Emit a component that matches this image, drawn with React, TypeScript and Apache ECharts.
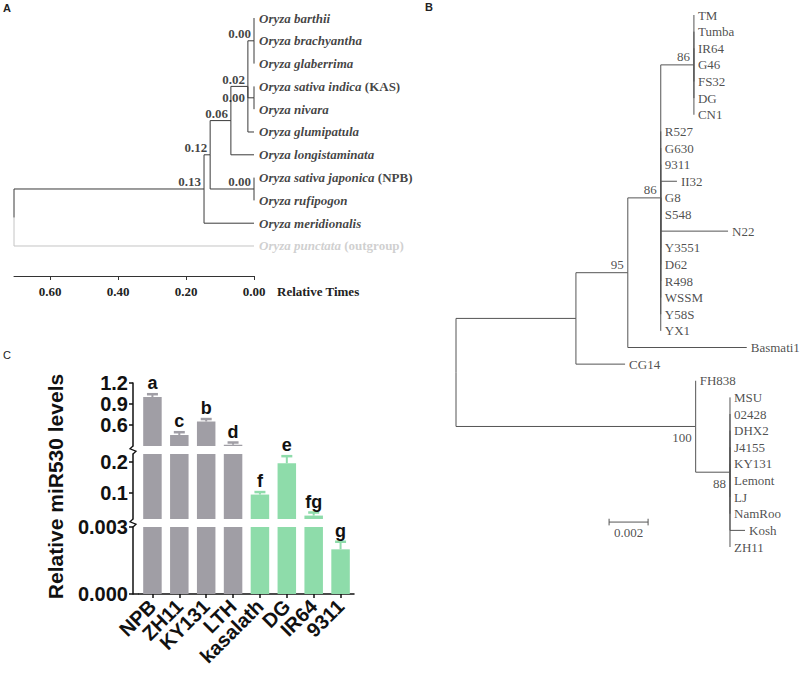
import React, { useEffect, useRef } from 'react';
import * as echarts from 'echarts';

// ---------------- Panel A: divergence-time tree ----------------
const aLeafNames = [
  'Oryza barthii',
  'Oryza brachyantha',
  'Oryza glaberrima',
  'Oryza sativa indica (KAS)',
  'Oryza nivara',
  'Oryza glumipatula',
  'Oryza longistaminata',
  'Oryza sativa japonica (NPB)',
  'Oryza rufipogon',
  'Oryza meridionalis',
  'Oryza punctata (outgroup)',
];
const aLeafParent = ['n000a', 'n000a', 'n000a', 'n000m', 'n000m', 'n002', 'n006', 'n000b', 'n000b', 'n013', 'root'];
const aLeafTime = [0, 0, 0, 0, 0, 0, 0, 0, 0, 0, 0];
const aNodeIds = ['root', 'n013', 'n012', 'n006', 'n002', 'n000a', 'n000m', 'n000b'];
const aNodeParent: (string | null)[] = [null, 'root', 'n013', 'n012', 'n006', 'n002', 'n002', 'n012'];
const aNodeTime = [0.706, 0.147, 0.129, 0.068, 0.018, 0, 0, 0];
const aNodeLabels = ['', '0.13', '0.12', '0.06', '0.02', '0.00', '0.00', '0.00'];
const aLabelOnLine = ['n000m'];
const aTimeTicks = [0, 0.2, 0.4, 0.6];

// ---------------- Panel B: neighbour-joining tree ----------------
const bLeafNames = [
  'TM', 'Tumba', 'IR64', 'G46', 'FS32', 'DG', 'CN1',
  'R527', 'G630', '9311', 'II32', 'G8', 'S548', 'N22', 'Y3551', 'D62', 'R498', 'WSSM', 'Y58S', 'YX1',
  'Basmati1', 'CG14', 'FH838',
  'MSU', '02428', 'DHX2', 'J4155', 'KY131', 'Lemont', 'LJ', 'NamRoo', 'Kosh', 'ZH11',
];
const bLeafParent = [
  'c86a', 'c86a', 'c86a', 'c86a', 'c86a', 'c86a', 'c86a',
  'c86b', 'c86b', 'c86b', 'c86b', 'c86b', 'c86b', 'c86b', 'c86b', 'c86b', 'c86b', 'c86b', 'c86b', 'c86b',
  'c95', 'cA', 'c100',
  'c88', 'c88', 'c88', 'c88', 'c88', 'c88', 'c88', 'c88', 'c88', 'c88',
];
const bLeafDepth = [
  0.0122, 0.0122, 0.0122, 0.0122, 0.0122, 0.0122, 0.0122,
  0.0105, 0.0105, 0.0105, 0.01133, 0.0105, 0.0105, 0.01395, 0.0105, 0.0105, 0.0105, 0.0105, 0.0105, 0.0105,
  0.01491, 0.00867, 0.01229,
  0.01405, 0.01405, 0.01405, 0.01405, 0.01405, 0.01405, 0.01405, 0.01405, 0.01482, 0.01405,
];
const bNodeIds = ['root', 'cA', 'c95', 'c86b', 'c86a', 'c100', 'c88'];
const bNodeParent: (string | null)[] = [null, 'root', 'cA', 'c95', 'c86b', 'root', 'c100'];
const bNodeDepth = [0, 0.00615, 0.00881, 0.0105, 0.0122, 0.01229, 0.01405];
const bNodeSupport = ['', '', '95', '86', '86', '100', '88'];
const bSupportBelow = ['c100', 'c88'];
const bScaleBarLength = 0.002;
const bScaleBarStart = 0.00785;
const bScaleBarRow = 30.5;

// ---------------- Panel C: miR530 levels ----------------
const cCategories = ['NPB', 'ZH11', 'KY131', 'LTH', 'kasalath', 'DG', 'IR64', '9311'];
const cMeans = [1.0, 0.457, 0.65, 0.318, 0.094, 0.195, 0.026, 0.002];
const cErrors = [0.04, 0.04, 0.035, 0.032, 0.008, 0.023, 0.01, 0.00034];
const cLetters = ['a', 'c', 'b', 'd', 'f', 'e', 'fg', 'g'];
const cGroup = ['japonica', 'japonica', 'japonica', 'japonica', 'indica', 'indica', 'indica', 'indica'];
const cSegMin = [0.3, 0.015, 0];
const cSegMax = [1.2, 0.225, 0.003];
const cSegTicks = [[0.6, 0.9, 1.2], [0.1, 0.2], [0, 0.003]];
const cSegDigits = [1, 1, 3];

// ---------------- layout helpers ----------------
const GRAY = '#a09ea5';
const GREEN = '#8edcaa';
const SERIF = 'Liberation Serif';
const SANS = 'Liberation Sans';

const C_AXIS_X = 133;
const C_GRID_LEFT = 139;
const C_GRID_W = 215;
const C_TOPS = [383, 454, 527];
const C_HEIGHTS = [63, 65, 67];

function layoutTree(
  nodeIds: string[], nodeParent: (string | null)[], nodeX: number[],
  leafParent: string[], leafX: number[]
) {
  const pos: Record<string, { x: number; y: number }> = {};
  const children: Record<string, string[]> = {};
  leafParent.forEach((p, i) => {
    const id = 'leaf:' + i;
    pos[id] = { x: leafX[i], y: i };
    (children[p] = children[p] || []).push(id);
  });
  nodeIds.forEach((id, i) => {
    const p = nodeParent[i];
    if (p) (children[p] = children[p] || []).push(id);
  });
  const getY = (id: string): number => {
    if (pos[id]) return pos[id].y;
    const ys = children[id].map(getY);
    const y = (Math.min(...ys) + Math.max(...ys)) / 2;
    pos[id] = { x: nodeX[nodeIds.indexOf(id)], y };
    return y;
  };
  nodeIds.forEach(getY);
  const edges: { parent: string; child: string; coords: number[][] }[] = [];
  Object.keys(children).forEach((p) => {
    children[p].forEach((c) => {
      edges.push({
        parent: p,
        child: c,
        coords: [[pos[p].x, pos[p].y], [pos[p].x, pos[c].y], [pos[c].x, pos[c].y]],
      });
    });
  });
  return { pos, edges };
}

function aLeafLabel(name: string) {
  const outgroup = name.indexOf('(outgroup)') >= 0;
  const m = name.match(/^(.*?)(\s*\(.*\))?$/) as RegExpMatchArray;
  const it = m[1];
  const tail = m[2] ? m[2].trim() : '';
  const iStyle = outgroup ? 'gi' : 'i';
  const bStyle = outgroup ? 'gb' : 'b';
  return `{${iStyle}|${it}${tail ? ' ' : ''}}` + (tail ? `{${bStyle}|${tail}}` : '');
}

export default function App() {
  const ref = useRef<HTMLDivElement>(null);
  useEffect(() => {
    document.body.style.margin = '0';
    if (!ref.current) return;
    const chart = echarts.init(ref.current, undefined, { renderer: 'svg' });

    const A = layoutTree(aNodeIds, aNodeParent, aNodeTime, aLeafParent, aLeafTime);
    const B = layoutTree(bNodeIds, bNodeParent, bNodeDepth, bLeafParent, bLeafDepth);
    const outIdx = aLeafNames.findIndex((n) => n.indexOf('(outgroup)') >= 0);

    const series: any[] = [];

    // Panel A edges
    series.push({
      type: 'lines', coordinateSystem: 'cartesian2d', xAxisIndex: 0, yAxisIndex: 0,
      polyline: true, silent: true, animation: false,
      lineStyle: { color: '#3a3a3a', width: 1, opacity: 1 },
      data: A.edges.map((e) => ({
        coords: e.coords,
        lineStyle: e.child === 'leaf:' + outIdx ? { color: '#c4c4c4', width: 1, opacity: 1 } : undefined,
      })),
    });
    // Panel A leaf names
    series.push({
      type: 'scatter', xAxisIndex: 0, yAxisIndex: 0, symbolSize: 0, silent: true,
      data: aLeafNames.map((n, i) => [A.pos['leaf:' + i].x, A.pos['leaf:' + i].y, i]),
      label: {
        show: true, position: 'right', distance: 5,
        formatter: (p: any) => aLeafLabel(aLeafNames[p.data[2]]),
        rich: {
          i: { fontFamily: SERIF, fontStyle: 'italic', fontWeight: 'bold', fontSize: 13, color: '#111' },
          b: { fontFamily: SERIF, fontStyle: 'normal', fontWeight: 'bold', fontSize: 13, color: '#111' },
          gi: { fontFamily: SERIF, fontStyle: 'italic', fontWeight: 'bold', fontSize: 13, color: '#c4c4c4' },
          gb: { fontFamily: SERIF, fontStyle: 'normal', fontWeight: 'bold', fontSize: 13, color: '#c4c4c4' },
        },
      },
    });
    // Panel A node ages
    series.push({
      type: 'scatter', xAxisIndex: 0, yAxisIndex: 0, symbolSize: 0, silent: true,
      data: aNodeIds
        .map((id, i) => {
          const onLine = aLabelOnLine.indexOf(id) >= 0;
          return {
            value: [A.pos[id].x, A.pos[id].y, i],
            label: { offset: [0, onLine ? 0 : -7], distance: onLine ? 9 : 3 },
          };
        })
        .filter((d) => aNodeLabels[d.value[2]] !== ''),
      label: {
        show: true, position: 'left', distance: 3,
        formatter: (p: any) => aNodeLabels[p.value[2]],
        fontFamily: SERIF, fontWeight: 'bold', fontSize: 13, color: '#111',
      },
    });

    // Panel B edges
    series.push({
      type: 'lines', coordinateSystem: 'cartesian2d', xAxisIndex: 1, yAxisIndex: 1,
      polyline: true, silent: true,
      lineStyle: { color: '#555', width: 1, opacity: 1 },
      data: B.edges.map((e) => ({ coords: e.coords })),
    });
    // Panel B leaf names
    series.push({
      type: 'scatter', xAxisIndex: 1, yAxisIndex: 1, symbolSize: 0, silent: true,
      data: bLeafNames.map((n, i) => [B.pos['leaf:' + i].x, B.pos['leaf:' + i].y, i]),
      label: {
        show: true, position: 'right', distance: 4,
        formatter: (p: any) => bLeafNames[p.data[2]],
        fontFamily: SERIF, fontSize: 13, color: '#222',
      },
    });
    // Panel B support values
    series.push({
      type: 'scatter', xAxisIndex: 1, yAxisIndex: 1, symbolSize: 0, silent: true,
      data: bNodeIds
        .map((id, i) => ({
          value: [B.pos[id].x, B.pos[id].y, i],
          label: { offset: [0, bSupportBelow.indexOf(id) >= 0 ? 11 : -8] },
        }))
        .filter((d) => bNodeSupport[d.value[2]] !== ''),
      label: {
        show: true, position: 'left', distance: 4,
        formatter: (p: any) => bNodeSupport[p.value[2]],
        fontFamily: SERIF, fontSize: 13, color: '#222',
      },
    });
    // Panel B scale bar
    const sb0 = bScaleBarStart;
    const sb1 = bScaleBarStart + bScaleBarLength;
    series.push({
      type: 'lines', coordinateSystem: 'cartesian2d', xAxisIndex: 1, yAxisIndex: 1,
      polyline: true, silent: true,
      lineStyle: { color: '#555', width: 1, opacity: 1 },
      data: [
        { coords: [[sb0, bScaleBarRow], [sb1, bScaleBarRow]] },
        { coords: [[sb0, bScaleBarRow - 0.2], [sb0, bScaleBarRow + 0.2]] },
        { coords: [[sb1, bScaleBarRow - 0.2], [sb1, bScaleBarRow + 0.2]] },
      ],
    });
    series.push({
      type: 'scatter', xAxisIndex: 1, yAxisIndex: 1, symbolSize: 0, silent: true,
      data: [[(sb0 + sb1) / 2, bScaleBarRow]],
      label: {
        show: true, position: 'bottom', distance: 4,
        formatter: () => String(bScaleBarLength),
        fontFamily: SERIF, fontSize: 13, color: '#222',
      },
    });

    // Panel C bars + error bars per axis segment
    cSegMin.forEach((mn, k) => {
      const mx = cSegMax[k];
      series.push({
        type: 'bar', xAxisIndex: 2 + k, yAxisIndex: 2 + k, barWidth: 18.5, clip: true, silent: true,
        data: cMeans.map((v) => (v > mn ? v : '-')),
        itemStyle: {
          color: (p: any) => (cGroup[p.dataIndex] === 'japonica' ? GRAY : GREEN),
        },
      });
      series.push({
        type: 'custom', xAxisIndex: 2 + k, yAxisIndex: 2 + k, silent: true, clip: false,
        data: cMeans.map((m, i) => [i, m, cErrors[i]]).filter((d) => d[1] >= mn && d[1] <= mx),
        renderItem: (params: any, api: any) => {
          const i = api.value(0);
          const m = api.value(1);
          const e = api.value(2);
          const p0 = api.coord([i, m]);
          const p1 = api.coord([i, m + e]);
          const col = cGroup[i] === 'japonica' ? GRAY : GREEN;
          return {
            type: 'group',
            children: [
              { type: 'line', shape: { x1: p0[0], y1: p0[1], x2: p1[0], y2: p1[1] }, style: { stroke: col, lineWidth: 2 } },
              { type: 'line', shape: { x1: p1[0] - 5.5, y1: p1[1], x2: p1[0] + 5.5, y2: p1[1] }, style: { stroke: col, lineWidth: 2.5 } },
              {
                type: 'text', x: p1[0], y: p1[1] - 2,
                style: {
                  text: cLetters[i], fontFamily: SANS, fontWeight: 'bold', fontSize: 18, fill: '#111',
                  align: 'center', verticalAlign: 'bottom', textAlign: 'center', textVerticalAlign: 'bottom',
                },
              },
            ],
          };
        },
      });
    });

    const xAxes: any[] = [
      {
        gridIndex: 0, type: 'value', inverse: true, min: 0, max: 0.706,
        axisLine: { show: true, onZero: false, lineStyle: { color: '#333', width: 1 } },
        axisTick: { show: true, customValues: aTimeTicks, length: 4, lineStyle: { color: '#333' } },
        axisLabel: {
          customValues: aTimeTicks, formatter: (v: number) => v.toFixed(2),
          fontFamily: SERIF, fontWeight: 'bold', fontSize: 13, color: '#222', margin: 9,
        },
        splitLine: { show: false },
      },
      { gridIndex: 1, type: 'value', min: 0, max: 0.01764, show: false, axisLine: { onZero: false } },
    ];
    const yAxes: any[] = [
      { gridIndex: 0, type: 'value', inverse: true, min: 0, max: 11.316, show: false, axisLine: { onZero: false } },
      { gridIndex: 1, type: 'value', inverse: true, min: 0, max: 32, show: false, axisLine: { onZero: false } },
    ];
    cSegMin.forEach((mn, k) => {
      const last = k === cSegMin.length - 1;
      xAxes.push({
        gridIndex: 2 + k, type: 'category', data: cCategories, show: last,
        axisLine: { show: true, onZero: false, lineStyle: { color: '#111', width: 1.5 } },
        axisTick: { show: true, alignWithLabel: true, length: 4, lineStyle: { color: '#111', width: 1.5 } },
        axisLabel: {
          interval: 0, rotate: 45, margin: 9,
          fontFamily: SANS, fontWeight: 'bold', fontSize: 20, color: '#111',
        },
      });
      yAxes.push({
        gridIndex: 2 + k, type: 'value', min: mn, max: cSegMax[k], offset: C_GRID_LEFT - C_AXIS_X,
        axisLine: { show: true, onZero: false, lineStyle: { color: '#111', width: 1.5 } },
        axisTick: { show: true, customValues: cSegTicks[k], length: 4, lineStyle: { color: '#111', width: 1.5 } },
        axisLabel: {
          customValues: cSegTicks[k], formatter: (v: number) => v.toFixed(cSegDigits[k]),
          fontFamily: SANS, fontWeight: 'bold', fontSize: 20, color: '#111', margin: 5,
        },
        splitLine: { show: false },
        ...(k === 1
          ? {
              name: 'Relative miR530 levels', nameLocation: 'middle', nameRotate: 90, nameGap: 67,
              nameTextStyle: { fontFamily: SANS, fontWeight: 'bold', fontSize: 21, color: '#111' },
            }
          : {}),
      });
    });

    const breakMark = (yTop: number, yBot: number) => ({
      type: 'polyline', silent: true,
      shape: {
        points: [
          [C_AXIS_X, yTop], [C_AXIS_X - 3, yTop + (yBot - yTop) * 0.35],
          [C_AXIS_X + 3, yTop + (yBot - yTop) * 0.65], [C_AXIS_X, yBot],
        ],
      },
      style: { stroke: '#111', lineWidth: 1.3, fill: 'none' },
    });

    const option: any = {
      animation: false,
      textStyle: { fontFamily: SANS },
      grid: [
        { left: 14, top: 18, width: 240, height: 258 },
        { left: 456, top: 15, width: 344, height: 532 },
        ...C_TOPS.map((t, k) => ({ left: C_GRID_LEFT, top: t, width: C_GRID_W, height: C_HEIGHTS[k] })),
      ],
      xAxis: xAxes,
      yAxis: yAxes,
      series,
      graphic: [
        { type: 'text', left: 3, top: 2, style: { text: 'A', font: `bold 11px "${SANS}"`, fill: '#222' } },
        { type: 'text', left: 425, top: 1, style: { text: 'B', font: `bold 11px "${SANS}"`, fill: '#222' } },
        { type: 'text', left: 3, top: 349, style: { text: 'C', font: `11px "${SANS}"`, fill: '#222' } },
        { type: 'text', left: 277, top: 285, style: { text: 'Relative Times', font: `bold 13px "${SERIF}"`, fill: '#222' } },
        breakMark(C_TOPS[0] + C_HEIGHTS[0], C_TOPS[1]),
        breakMark(C_TOPS[1] + C_HEIGHTS[1], C_TOPS[2]),
        {
          type: 'line', silent: true,
          shape: { x1: C_AXIS_X, y1: C_TOPS[2] + C_HEIGHTS[2], x2: C_GRID_LEFT, y2: C_TOPS[2] + C_HEIGHTS[2] },
          style: { stroke: '#111', lineWidth: 1.5 },
        },
      ],
    };
    chart.setOption(option);
    return () => chart.dispose();
  }, []);
  return <div ref={ref} style={{ width: 800, height: 674 }} />;
}
